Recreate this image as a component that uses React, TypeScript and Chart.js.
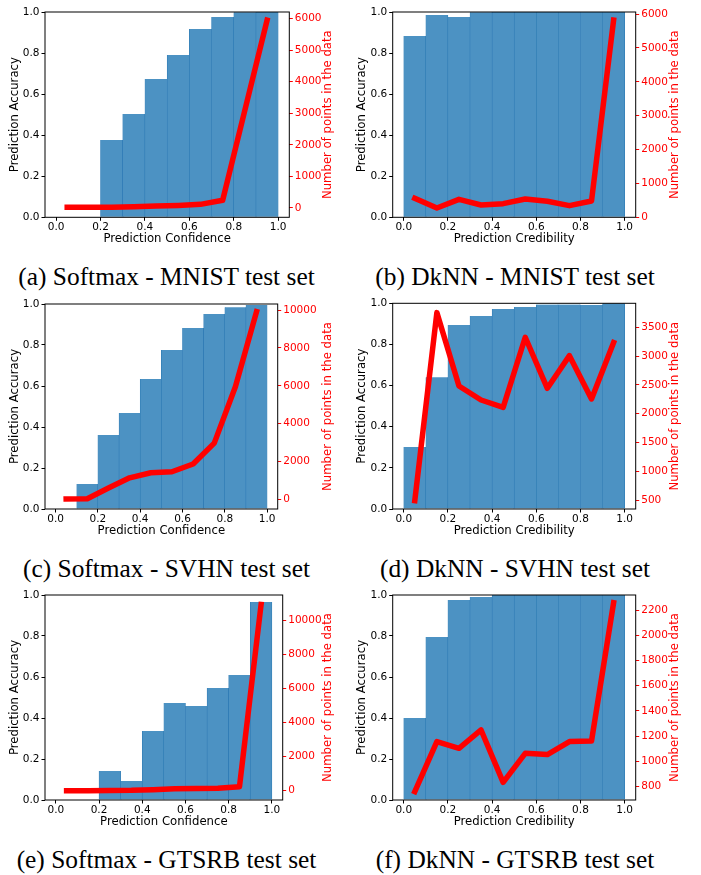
import React, { useEffect, useRef } from "react";
import { Chart, registerables } from "chart.js";

Chart.register(...registerables);

// ---------- data ----------
const binCenters = [0.05, 0.15, 0.25, 0.35, 0.45, 0.55, 0.65, 0.75, 0.85, 0.95];
const xTickValues = [0, 0.2, 0.4, 0.6, 0.8, 1.0];
const accTickValues = [0, 0.2, 0.4, 0.6, 0.8, 1.0];

const accSoftmaxMnist = [0, 0, 0.377, 0.503, 0.674, 0.79, 0.917, 0.976, 0.999, 1.0];
const cntSoftmaxMnist = [15, 15, 20, 35, 55, 75, 110, 240, 3100, 5950];
const cntTicksSoftmaxMnist = [0, 1000, 2000, 3000, 4000, 5000, 6000];

const accDknnMnist = [0.883, 0.985, 0.976, 0.999, 1.0, 1.0, 1.0, 1.0, 1.0, 1.0];
const cntDknnMnist = [560, 275, 530, 364, 403, 541, 472, 344, 482, 5820];
const cntTicksDknnMnist = [0, 1000, 2000, 3000, 4000, 5000, 6000];

const accSoftmaxSvhn = [0, 0.122, 0.361, 0.468, 0.634, 0.776, 0.883, 0.951, 0.984, 0.995];
const cntSoftmaxSvhn = [20, 40, 600, 1140, 1410, 1460, 1870, 2975, 5950, 9910];
const cntTicksSoftmaxSvhn = [0, 2000, 4000, 6000, 8000, 10000];

const accDknnSvhn = [0.301, 0.64, 0.895, 0.938, 0.972, 0.982, 0.994, 0.994, 0.992, 1.0];
const cntDknnSvhn = [490, 3754, 2480, 2237, 2110, 3326, 2440, 3007, 2255, 3233];
const cntTicksDknnSvhn = [500, 1000, 1500, 2000, 2500, 3000, 3500];

const accSoftmaxGtsrb = [0, 0, 0.141, 0.093, 0.337, 0.473, 0.459, 0.546, 0.61, 0.966];
const cntSoftmaxGtsrb = [0, 0, 10, 20, 60, 110, 130, 140, 235, 10950];
const cntTicksSoftmaxGtsrb = [0, 2000, 4000, 6000, 8000, 10000];

const accDknnGtsrb = [0.4, 0.795, 0.976, 0.99, 1.0, 1.0, 1.0, 1.0, 1.0, 1.0];
const cntDknnGtsrb = [760, 1157, 1104, 1249, 834, 1064, 1054, 1157, 1162, 2258];
const cntTicksDknnGtsrb = [800, 1000, 1200, 1400, 1600, 1800, 2000, 2200];

const captions = [
  "(a) Softmax - MNIST test set",
  "(b) DkNN - MNIST test set",
  "(c) Softmax - SVHN test set",
  "(d) DkNN - SVHN test set",
  "(e) Softmax - GTSRB test set",
  "(f) DkNN - GTSRB test set",
];

const yLeftTitle = "Prediction Accuracy";
const yRightTitle = "Number of points in the data";
const xTitleConf = "Prediction Confidence";
const xTitleCred = "Prediction Credibility";

// ---------- layout ----------
type Spec = {
  x: number; y: number; w: number; h: number;
  l: number; r: number; t: number; b: number;
  acc: number[]; cnt: number[]; cntTicks: number[];
  cntMin: number; cntMax: number;
  xTitle: string; leftTitleX: number; rightTitleX: number; xTitleY: number;
};

const specs: Spec[] = [
  { x: 0, y: 0, w: 350, h: 250, l: 45, r: 289.3, t: 12, b: 217.3, acc: accSoftmaxMnist, cnt: cntSoftmaxMnist, cntTicks: cntTicksSoftmaxMnist, cntMin: -300, cntMax: 6210, xTitle: xTitleConf, leftTitleX: 14.5, rightTitleX: 328.3, xTitleY: 239.3 },
  { x: 350, y: 0, w: 351, h: 250, l: 42.7, r: 285.7, t: 12, b: 217.3, acc: accDknnMnist, cnt: cntDknnMnist, cntTicks: cntTicksDknnMnist, cntMin: 0, cntMax: 6060, xTitle: xTitleCred, leftTitleX: 11.7, rightTitleX: 325, xTitleY: 239.3 },
  { x: 0, y: 292, w: 350, h: 250, l: 45, r: 277.7, t: 12, b: 217, acc: accSoftmaxSvhn, cnt: cntSoftmaxSvhn, cntTicks: cntTicksSoftmaxSvhn, cntMin: -505, cntMax: 10320, xTitle: xTitleConf, leftTitleX: 14.5, rightTitleX: 328, xTitleY: 238.7 },
  { x: 350, y: 292, w: 351, h: 250, l: 42.7, r: 285.7, t: 11.3, b: 217, acc: accDknnSvhn, cnt: cntDknnSvhn, cntTicks: cntTicksDknnSvhn, cntMin: 344, cntMax: 3916, xTitle: xTitleCred, leftTitleX: 11.7, rightTitleX: 325, xTitleY: 238.7 },
  { x: 0, y: 583, w: 350, h: 250, l: 45, r: 282.7, t: 12, b: 217, acc: accSoftmaxGtsrb, cnt: cntSoftmaxGtsrb, cntTicks: cntTicksSoftmaxGtsrb, cntMin: -549, cntMax: 11510, xTitle: xTitleConf, leftTitleX: 14.5, rightTitleX: 328, xTitleY: 239.3 },
  { x: 350, y: 583, w: 351, h: 250, l: 42.7, r: 285.7, t: 12, b: 217, acc: accDknnGtsrb, cnt: cntDknnGtsrb, cntTicks: cntTicksDknnGtsrb, cntMin: 694, cntMax: 2319, xTitle: xTitleCred, leftTitleX: 11.7, rightTitleX: 325, xTitleY: 239.3 },
];

const captionPos = [
  { cx: 166.5, base: 287 },
  { cx: 515, base: 287 },
  { cx: 166.5, base: 579 },
  { cx: 515, base: 579 },
  { cx: 166.5, base: 870 },
  { cx: 515, base: 870 },
];

const FONT = "DejaVu Sans";
const TICK_FS = 10.5;
const TITLE_FS = 11.7;
const RED = "#ff0000";

function Panel({ s }: { s: Spec }) {
  const ref = useRef<HTMLCanvasElement | null>(null);
  useEffect(() => {
    if (!ref.current) return;
    const framePlugin = {
      id: "frame" + s.x + "_" + s.y,
      afterDatasetsDraw(chart: any) {
        const { ctx, chartArea: a } = chart;
        ctx.save();
        ctx.strokeStyle = "#000";
        ctx.lineWidth = 1;
        ctx.strokeRect(a.left, a.top, a.right - a.left, a.bottom - a.top);
        ctx.font = `${TITLE_FS}px "${FONT}"`;
        ctx.textAlign = "center";
        ctx.textBaseline = "middle";
        ctx.fillStyle = "#000";
        ctx.fillText(s.xTitle, (a.left + a.right) / 2, s.xTitleY);
        const cy = (a.top + a.bottom) / 2;
        ctx.save();
        ctx.translate(s.leftTitleX, cy);
        ctx.rotate(-Math.PI / 2);
        ctx.fillText(yLeftTitle, 0, 0);
        ctx.restore();
        ctx.save();
        ctx.translate(s.rightTitleX, cy);
        ctx.rotate(-Math.PI / 2);
        ctx.fillStyle = RED;
        ctx.fillText(yRightTitle, 0, 0);
        ctx.restore();
        ctx.restore();
      },
    };
    const chart = new Chart(ref.current, {
      type: "bar",
      data: {
        datasets: [
          {
            type: "line",
            data: binCenters.map((x, i) => ({ x, y: s.cnt[i] })),
            yAxisID: "y2",
            xAxisID: "x",
            borderColor: RED,
            borderWidth: 5.5,
            pointRadius: 0,
            tension: 0,
            borderCapStyle: "square",
            borderJoinStyle: "round",
            order: 0,
          } as any,
          {
            type: "bar",
            data: binCenters.map((x, i) => ({ x, y: s.acc[i] })),
            yAxisID: "y",
            xAxisID: "x",
            backgroundColor: "#4c92c3",
            borderColor: "#2a78b3",
            borderWidth: { left: 0.6, right: 0.6, top: 0, bottom: 0 },
            borderSkipped: false,
            barPercentage: 1,
            categoryPercentage: 1,
            order: 1,
          } as any,
        ],
      },
      options: {
        animation: false,
        responsive: false,
        devicePixelRatio: 1,
        layout: { padding: { top: s.t, left: 0, right: 0, bottom: 0 } },
        plugins: { legend: { display: false }, tooltip: { enabled: false }, title: { display: false } },
        scales: {
          x: {
            type: "linear",
            position: "bottom",
            offset: false,
            min: -0.05,
            max: 1.05,
            afterBuildTicks: (ax: any) => { ax.ticks = xTickValues.map((v) => ({ value: v })); },
            afterFit: (ax: any) => { ax.height = s.h - s.b; },
            ticks: { callback: (v: any) => Number(v).toFixed(1), font: { family: FONT, size: TICK_FS }, color: "#000", padding: 0, autoSkip: false, maxRotation: 0 },
            grid: { offset: false, drawOnChartArea: false, drawTicks: true, tickLength: 3.5, color: "#000", lineWidth: 1 },
            border: { display: false },
          },
          y: {
            type: "linear",
            position: "left",
            min: 0,
            max: 1,
            afterBuildTicks: (ax: any) => { ax.ticks = accTickValues.map((v) => ({ value: v })); },
            afterFit: (ax: any) => { ax.width = s.l; },
            ticks: { callback: (v: any) => Number(v).toFixed(1), font: { family: FONT, size: TICK_FS }, color: "#000", padding: 2, autoSkip: false },
            grid: { drawOnChartArea: false, drawTicks: true, tickLength: 3.5, color: "#000", lineWidth: 1 },
            border: { display: false },
          },
          y2: {
            type: "linear",
            position: "right",
            min: s.cntMin,
            max: s.cntMax,
            afterBuildTicks: (ax: any) => { ax.ticks = s.cntTicks.map((v) => ({ value: v })); },
            afterFit: (ax: any) => { ax.width = s.w - s.r; },
            ticks: { callback: (v: any) => String(v), font: { family: FONT, size: TICK_FS }, color: RED, padding: 2, autoSkip: false },
            grid: { drawOnChartArea: false, drawTicks: true, tickLength: 3.5, color: RED, lineWidth: 1 },
            border: { display: false },
          },
        },
      } as any,
      plugins: [framePlugin as any],
    });
    return () => chart.destroy();
  }, [s]);
  return (
    <canvas
      ref={ref}
      width={s.w}
      height={s.h}
      style={{ position: "absolute", left: s.x, top: s.y, width: s.w, height: s.h }}
    />
  );
}

export default function App() {
  return (
    <div style={{ position: "absolute", left: 0, top: 0, width: 701, height: 875, background: "#fff", overflow: "hidden" }}>
      {specs.map((s, i) => (
        <Panel key={i} s={s} />
      ))}
      {captions.map((c, i) => (
        <div
          key={"c" + i}
          style={{
            position: "absolute",
            left: captionPos[i].cx,
            top: captionPos[i].base - 22.6,
            transform: "translateX(-50%)",
            whiteSpace: "nowrap",
            fontFamily: '"Liberation Serif", "Times New Roman", serif',
            fontSize: 25.4,
            lineHeight: "25.4px",
            color: "#000",
          }}
        >
          {c}
        </div>
      ))}
    </div>
  );
}
